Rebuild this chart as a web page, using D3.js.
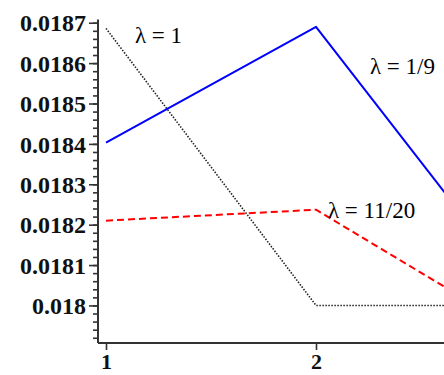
<!DOCTYPE html>
<html>
<head>
<meta charset="utf-8">
<script src="https://cdn.jsdelivr.net/npm/d3@7"></script>
<style>
  html, body { margin: 0; padding: 0; background: #fff; }
  svg { display: block; }
</style>
</head>
<body>
<svg id="chart" width="444" height="375"></svg>
<script>
// Iteration index on the horizontal axis
const steps = [1, 2, 3];

// Values of each series at every step
const lambda1 = [0.018686, 0.018, 0.018];
const lambdaNinth = [0.018403, 0.01869, 0.01802];
const lambdaElevenTwentieths = [0.01821, 0.018237, 0.017925];

// Tick labels
const yTickValues = [0.018, 0.0181, 0.0182, 0.0183, 0.0184, 0.0185, 0.0186, 0.0187];
const yTickLabels = ["0.018", "0.0181", "0.0182", "0.0183", "0.0184", "0.0185", "0.0186", "0.0187"];
const xTickValues = [1, 2];
const xTickLabels = ["1", "2"];

// Curve labels, anchored in data coordinates
const curveLabels = [
  { text: "\u03bb = 1", x: 1.138, y: 0.01865 },
  { text: "\u03bb = 1/9", x: 2.257, y: 0.018573 },
  { text: "\u03bb = 11/20", x: 2.057, y: 0.018216 }
];

const svg = d3.select("#chart");

const x = d3.scaleLinear().domain([1, 2]).range([106, 316]);
const y = d3.scaleLinear().domain([0.017907, 0.018708]).range([343, 19.5]);

const axisColor = "#333";
const tickFont = "'Liberation Serif', 'Times New Roman', serif";

// Vertical axis with minor ticks every 0.00002
const minorTicks = d3.range(0.01792, 0.01871, 0.00002)
  .filter(v => v >= 0.017907 && v <= 0.018708);
const yAxisMinor = d3.axisLeft(y).tickValues(minorTicks).tickSize(5).tickFormat("");
const gMinor = svg.append("g").attr("transform", "translate(98,0)").call(yAxisMinor);

const yAxis = d3.axisLeft(y).tickValues(yTickValues).tickSize(9)
  .tickFormat((d, i) => yTickLabels[i]).tickPadding(3);
const gY = svg.append("g").attr("transform", "translate(98,0)").call(yAxis);

// Horizontal axis
const xAxis = d3.axisBottom(x).tickValues(xTickValues).tickSize(7)
  .tickFormat((d, i) => xTickLabels[i]);
const gX = svg.append("g").attr("transform", "translate(0,343)").call(xAxis);

[gMinor, gY, gX].forEach(g => {
  g.select(".domain").remove();
  g.selectAll(".tick line").attr("stroke", axisColor).attr("stroke-width", 1.6);
});
gY.selectAll(".tick text")
  .attr("font-family", tickFont).attr("font-weight", "bold").attr("font-size", 24)
  .attr("fill", "#111").attr("dy", "0.34em");
gX.selectAll(".tick text")
  .attr("font-family", tickFont).attr("font-weight", "bold").attr("font-size", 22)
  .attr("fill", "#111").attr("y", 26).attr("dy", 0);

// Axis lines
svg.append("line").attr("x1", 98).attr("x2", 98).attr("y1", y.range()[1]).attr("y2", 343)
  .attr("stroke", axisColor).attr("stroke-width", 2);
svg.append("line").attr("x1", 98).attr("x2", 444).attr("y1", 343).attr("y2", 343)
  .attr("stroke", axisColor).attr("stroke-width", 2);

const line = d3.line().x((d, i) => x(steps[i])).y(d => y(d));

const series = [
  { values: lambda1, color: "#222", dash: "1.5,1.5", width: 1.6 },
  { values: lambdaNinth, color: "#0000ff", dash: null, width: 2 },
  { values: lambdaElevenTwentieths, color: "#ff0000", dash: "7,4", width: 2 }
];

series.forEach(s => {
  svg.append("path")
    .datum(s.values)
    .attr("d", line)
    .attr("fill", "none")
    .attr("stroke", s.color)
    .attr("stroke-width", s.width)
    .attr("stroke-dasharray", s.dash)
    .attr("stroke-linejoin", "round");
});

svg.selectAll("text.curve-label")
  .data(curveLabels)
  .enter().append("text")
  .attr("class", "curve-label")
  .attr("x", d => x(d.x))
  .attr("y", d => y(d.y))
  .attr("font-family", tickFont)
  .attr("font-size", 23)
  .attr("fill", "#000")
  .text(d => d.text);
</script>
</body>
</html>
